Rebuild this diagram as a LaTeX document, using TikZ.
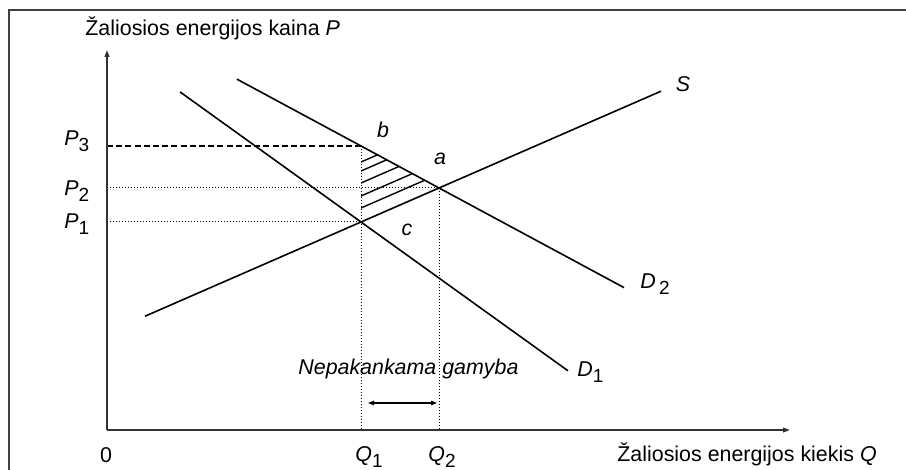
\documentclass[tikz,border=0pt]{standalone}
\usepackage{fontspec}
\setmainfont{Liberation Sans}
\usetikzlibrary{arrows.meta,calc}
\newcommand{\withsub}[2]{\textit{#1}\raisebox{-0.45ex}{\fontsize{9.5}{10}\selectfont #2}}

\begin{document}
\begin{tikzpicture}[x=0.5pt,y=-0.5pt,
  frame/.style={line width=0.7pt,black!75},
  axis/.style={line width=0.75pt,black!80,-{Triangle[length=3.5pt,width=2.4pt]}},
  curve/.style={line width=0.8pt,black},
  hatch/.style={line width=0.7pt,black},
  guide/.style={line width=0.5pt,dash pattern=on 0.6pt off 0.9pt},
  dashline/.style={line width=0.6pt,dash pattern=on 3pt off 1.6pt},
  gaparr/.style={line width=0.6pt,{Triangle[length=3pt,width=2.2pt]}-{Triangle[length=3pt,width=2.2pt]}},
  lbl/.style={font=\fontsize{10.7}{12}\selectfont,inner sep=0pt,anchor=base west},
  pt/.style={font=\fontsize{10.7}{12}\selectfont\itshape,inner sep=0pt,anchor=base}]
  \useasboundingbox (0,0) rectangle (906,470);
  \draw[frame] (9,480) |- (920,10);

  % points of the market
  \coordinate (O) at (107,430);
  \coordinate (e1) at (361,222);
  \coordinate (a) at (439,188);
  \coordinate (b) at (361,146);
  \coordinate (s0) at (145,316.2);
  \coordinate (s1) at (661,91.2);
  \coordinate (d10) at (180,91.9);
  \coordinate (d11) at (568,370.8);
  \coordinate (d20) at (237,79.2);
  \coordinate (d21) at (624,287.6);

  % shaded loss
  \begin{scope}
    \clip (b) -- (e1) -- (a) -- cycle;
    \foreach \dy in {14,26,39,51,60}
      \draw[hatch] ($(s0)+(0,-\dy)$) -- ($(s1)+(0,-\dy)$);
  \end{scope}

  \draw[guide] (b) -- (b |- O);
  \draw[guide] (a) -- (a |- O);
  \draw[guide] (O |- a) -- (a);
  \draw[guide] (O |- e1) -- (e1);
  \draw[dashline] (O |- b) -- (b);

  \draw[axis] (O) -- (107,50);
  \draw[axis] (O) -- (790,430);

  \draw[curve] (s0) -- (s1);
  \draw[curve] (d10) -- (d11);
  \draw[curve] (d20) -- (d21);

  \coordinate (g0) at (368,403);
  \coordinate (g1) at (437,403);
  \draw[gaparr] (g0) -- (g1);

  \node[lbl] (ytitle) at (85,36) {Žaliosios energijos kaina \textit{P}};
  \node[lbl] (xtitle) at (617,462) {Žaliosios energijos kiekis \textit{Q}};
  \node[lbl,anchor=base] (zero) at (106,463) {0};
  \node[lbl] (q1) at (355,462) {\withsub{Q}{1}};
  \node[lbl] (q2) at (428,462) {\withsub{Q}{2}};
  \node[lbl] (p3) at (64,146) {\withsub{P}{3}};
  \node[lbl] (p2) at (64,196) {\withsub{P}{2}};
  \node[lbl] (p1) at (64,229) {\withsub{P}{1}};
  \node[pt] (lb) at (383,138) {b};
  \node[pt] (la) at (440,165) {a};
  \node[pt] (lc) at (407,236) {c};
  \node[pt] (ls) at (683,92) {S};
  \node[lbl] (ld2) at (640,289) {\withsub{D}{\,2}};
  \node[lbl] (ld1) at (577,377) {\withsub{D}{1}};
  \node[lbl,font=\fontsize{10.7}{12}\selectfont\itshape] (gap) at (298,375) {Nepakankama gamyba};
\end{tikzpicture}
\end{document}
